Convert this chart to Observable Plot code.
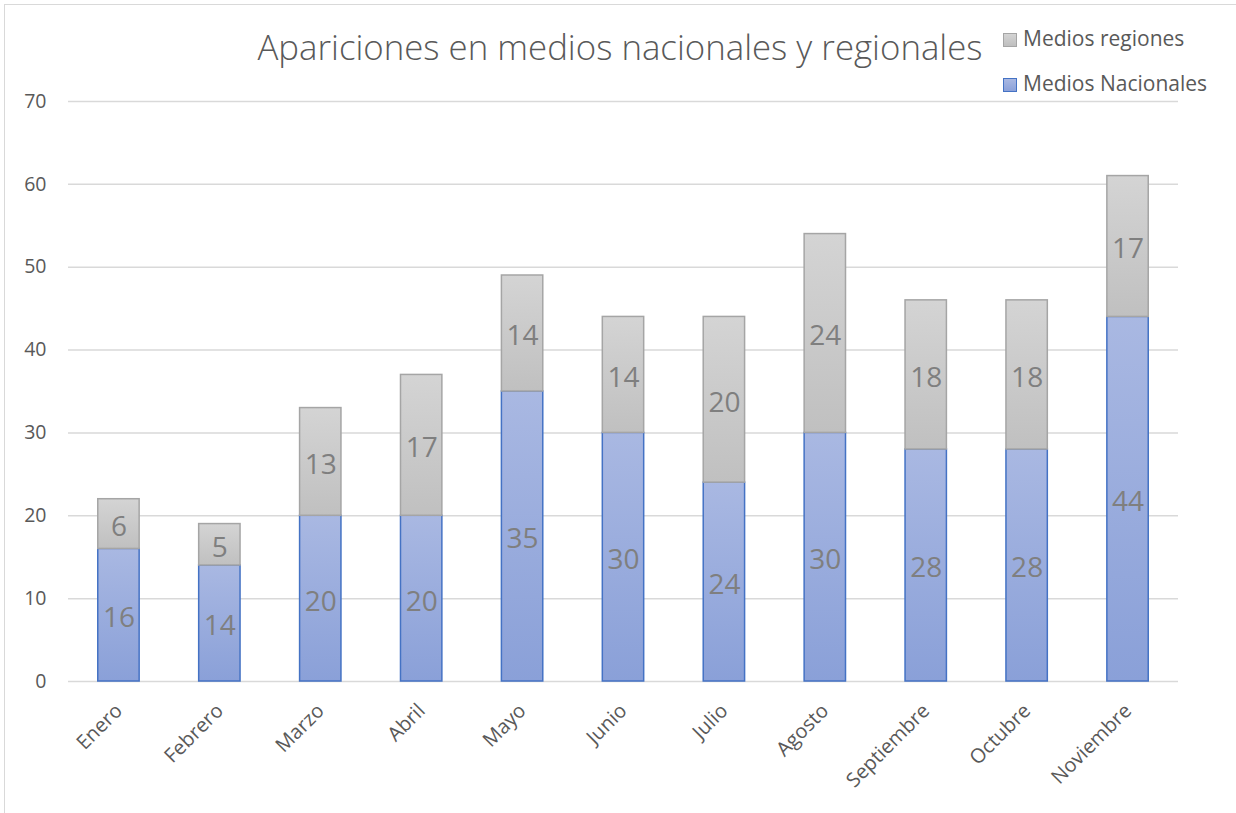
<!DOCTYPE html>
<html>
<head>
<meta charset="utf-8">
<script src="https://cdn.jsdelivr.net/npm/d3@7"></script>
<script src="https://cdn.jsdelivr.net/npm/@observablehq/plot@0.6"></script>
<style>
  html, body { margin: 0; padding: 0; background: #fff; }
  #wrap { position: relative; width: 1236px; height: 813px; overflow: hidden; font-family: "Open Sans", sans-serif; }
  #frame { position: absolute; left: 4px; top: 4px; width: 1240px; height: 820px; border: 1.5px solid #d9d9d9; box-sizing: border-box; pointer-events: none; }
  #title { position: absolute; left: 0; width: 1240px; top: 23px; text-align: center; font-size: 34.8px; color: #595959; font-weight: 300; white-space: nowrap; }
  .leg { position: absolute; left: 1003px; font-size: 21px; color: #595959; white-space: nowrap; }
  .sw { display: inline-block; width: 12px; height: 12px; margin-right: 6px; vertical-align: -1px; }
</style>
</head>
<body>
<div id="wrap">
  <div id="chart"></div>
  <div id="title">Apariciones en medios nacionales y regionales</div>
  <div class="leg" style="top:24px"><span class="sw" style="background:linear-gradient(#d4d4d4,#bfbfbf);border:1px solid #a5a5a5"></span>Medios regiones</div>
  <div class="leg" style="top:69px"><span class="sw" style="background:linear-gradient(#a9b8e2,#8ba1d9);border:1px solid #4472c4"></span>Medios Nacionales</div>
  <div id="frame"></div>
</div>
<script>
const months = ["Enero","Febrero","Marzo","Abril","Mayo","Junio","Julio","Agosto","Septiembre","Octubre","Noviembre"];
const nacionales = [16,14,20,20,35,30,24,30,28,28,44];
const regiones = [6,5,13,17,14,14,20,24,18,18,17];
const yTicks = [0,10,20,30,40,50,60,70];
const seriesNames = ["Medios Nacionales","Medios regiones"];

const rows = [];
months.forEach((m, i) => {
  rows.push({month: m, serie: seriesNames[0], value: nacionales[i]});
  rows.push({month: m, serie: seriesNames[1], value: regiones[i]});
});

const chart = Plot.plot({
  width: 1236,
  height: 813,
  marginLeft: 68,
  marginRight: 58,
  marginTop: 101,
  marginBottom: 132,
  style: {fontFamily: "Open Sans, sans-serif", color: "#595959", background: "transparent"},
  x: {domain: months, paddingInner: 0.59, paddingOuter: 0.295, round: false, label: null},
  y: {domain: [0, 70], label: null},
  marks: [
    Plot.gridY(yTicks, {stroke: "#d9d9d9", strokeOpacity: 1, strokeWidth: 1.5}),
    Plot.barY(rows, Plot.stackY({
      x: "month", y: "value", z: "serie", order: seriesNames,
      fill: d => d.serie === seriesNames[0] ? "url(#gBlue)" : "url(#gGray)",
      stroke: d => d.serie === seriesNames[0] ? "#4472c4" : "#a5a5a5",
      strokeWidth: 1.5
    })),
    Plot.text(rows, Plot.stackY({
      x: "month", y: "value", z: "serie", order: seriesNames, text: "value",
      fill: "#7f7f7f", fontSize: 28, dy: 3
    })),
    Plot.axisY(yTicks, {tickSize: 0, tickPadding: 22, fontSize: 19.5, fill: "#595959", textAnchor: "end"}),
    Plot.axisX({tickSize: 0, tickPadding: 26, tickRotate: -45, fontSize: 20, fill: "#595959"})
  ]
});

const ns = "http://www.w3.org/2000/svg";
const defs = document.createElementNS(ns, "defs");
defs.innerHTML = `
  <linearGradient id="gBlue" x1="0" y1="0" x2="0" y2="1">
    <stop offset="0" stop-color="#a9b8e2"/><stop offset="1" stop-color="#8aa0d8"/>
  </linearGradient>
  <linearGradient id="gGray" x1="0" y1="0" x2="0" y2="1">
    <stop offset="0" stop-color="#d4d4d4"/><stop offset="1" stop-color="#c0c0c0"/>
  </linearGradient>`;
chart.insertBefore(defs, chart.firstChild);
document.getElementById("chart").appendChild(chart);
</script>
</body>
</html>
